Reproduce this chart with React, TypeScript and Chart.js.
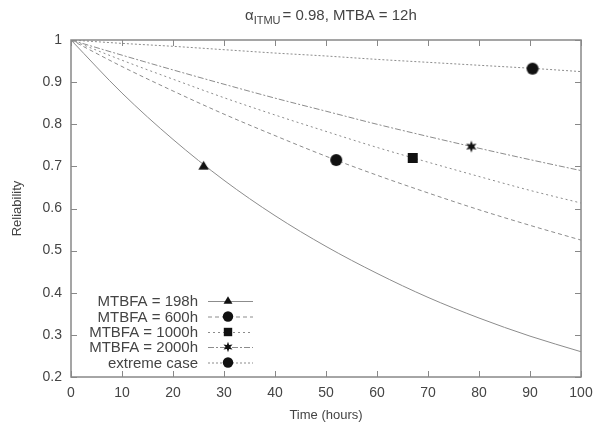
import React, { useEffect, useRef } from "react";
import { Chart, registerables } from "chart.js";

Chart.register(...registerables);

const timeHours = [0, 10, 20, 30, 40, 50, 60, 70, 80, 90, 100];
const rel198 = [1, 0.874, 0.764, 0.667, 0.583, 0.51, 0.446, 0.389, 0.34, 0.297, 0.26];
const rel600 = [1, 0.937, 0.879, 0.824, 0.773, 0.724, 0.679, 0.637, 0.597, 0.56, 0.525];
const rel1000 = [1, 0.952, 0.907, 0.863, 0.822, 0.783, 0.745, 0.71, 0.676, 0.643, 0.613];
const rel2000 = [1, 0.964, 0.929, 0.895, 0.862, 0.831, 0.8, 0.771, 0.743, 0.716, 0.69];
const relExtreme = [1, 0.992, 0.985, 0.977, 0.969, 0.962, 0.954, 0.947, 0.94, 0.933, 0.925];

const markerX = [26, 52, 67, 78.5, 90.5];
const markerY = [0.7, 0.715, 0.72, 0.747, 0.932];

const seriesLabels = ["MTBFA = 198h", "MTBFA = 600h", "MTBFA = 1000h", "MTBFA = 2000h", "extreme case"];
const xTicks = [0, 10, 20, 30, 40, 50, 60, 70, 80, 90, 100];
const yTicks = [0.2, 0.3, 0.4, 0.5, 0.6, 0.7, 0.8, 0.9, 1];

const FONT = "'Liberation Sans', Arial, Helvetica, sans-serif";
const TEXT = "#444";
const LINE = "#8c8c8c";
const dashes: number[][] = [[], [4, 3], [2, 3], [6, 2, 2, 2], [2, 2]];
const pointStyles = ["triangle", "circle", "rect", "star", "circle"];
const pointRadii = [5.5, 6, 5, 6, 6];

function drawMarker(ctx: CanvasRenderingContext2D, style: string, r: number, x: number, y: number) {
  ctx.beginPath();
  if (style === "circle") {
    ctx.arc(x, y, r, 0, Math.PI * 2);
    ctx.fill();
  } else if (style === "rect") {
    const s = r;
    ctx.fillRect(x - s, y - s, 2 * s, 2 * s);
  } else if (style === "triangle") {
    ctx.moveTo(x, y - r);
    ctx.lineTo(x + r * 0.95, y + r * 0.6);
    ctx.lineTo(x - r * 0.95, y + r * 0.6);
    ctx.closePath();
    ctx.fill();
  } else if (style === "star") {
    const ri = r * 0.45;
    for (let k = 0; k < 12; k++) {
      const ang = -Math.PI / 2 + (k * Math.PI) / 6;
      const rr = k % 2 === 0 ? r : ri;
      const px = x + Math.cos(ang) * rr;
      const py = y + Math.sin(ang) * rr;
      if (k === 0) ctx.moveTo(px, py);
      else ctx.lineTo(px, py);
    }
    ctx.closePath();
    ctx.fill();
  }
}

function makeMarkerImage(style: string, r: number): HTMLCanvasElement {
  const size = Math.ceil(r * 2 + 2);
  const c = document.createElement("canvas");
  c.width = size;
  c.height = size;
  const ctx = c.getContext("2d")!;
  ctx.fillStyle = "#111";
  drawMarker(ctx, style, r, size / 2, size / 2);
  return c;
}

export default function App() {
  const ref = useRef<HTMLCanvasElement | null>(null);
  useEffect(() => {
    if (!ref.current) return;
    const allSeries = [rel198, rel600, rel1000, rel2000, relExtreme];
    const lineSets = allSeries.map((s, i) => ({
      label: seriesLabels[i],
      data: timeHours.map((t, j) => ({ x: t, y: s[j] })),
      showLine: true,
      borderColor: LINE,
      borderWidth: 1,
      borderDash: dashes[i],
      pointRadius: 0,
      cubicInterpolationMode: "monotone" as const,
      fill: false,
      order: 2,
    }));
    const markerSets = markerX.map((mx, i) => ({
      label: seriesLabels[i] + " marker",
      data: [{ x: mx, y: markerY[i] }],
      showLine: false,
      pointStyle: makeMarkerImage(pointStyles[i], pointRadii[i]),
      pointRadius: pointRadii[i],
      order: 1,
    }));

    const framePlugin = {
      id: "frame",
      afterDatasetsDraw(chart: any) {
        const { ctx, chartArea: a, scales } = chart;
        ctx.save();
        ctx.strokeStyle = "#888";
        ctx.lineWidth = 1.5;
        ctx.setLineDash([]);
        ctx.strokeRect(a.left, a.top, a.right - a.left, a.bottom - a.top);
        ctx.lineWidth = 1;
        ctx.beginPath();
        const tl = 6;
        xTicks.forEach((v) => {
          const px = Math.round(scales.x.getPixelForValue(v)) + 0.5;
          ctx.moveTo(px, a.bottom);
          ctx.lineTo(px, a.bottom - tl);
          ctx.moveTo(px, a.top);
          ctx.lineTo(px, a.top + tl);
        });
        yTicks.forEach((v) => {
          const py = Math.round(scales.y.getPixelForValue(v)) + 0.5;
          ctx.moveTo(a.left, py);
          ctx.lineTo(a.left + tl, py);
          ctx.moveTo(a.right, py);
          ctx.lineTo(a.right - tl, py);
        });
        ctx.stroke();

        // legend
        const rowY = [301, 316.5, 332, 347, 362.5];
        ctx.font = `15px ${FONT}`;
        ctx.textAlign = "right";
        ctx.textBaseline = "middle";
        seriesLabels.forEach((lab, i) => {
          const y = rowY[i];
          ctx.fillStyle = TEXT;
          ctx.fillText(lab, 198, y + 1);
          ctx.strokeStyle = LINE;
          ctx.lineWidth = 1;
          ctx.setLineDash(dashes[i]);
          ctx.beginPath();
          ctx.moveTo(208, y + 0.5);
          ctx.lineTo(253, y + 0.5);
          ctx.stroke();
        });
        ctx.setLineDash([]);
        rowY.forEach((y, i) => {
          ctx.fillStyle = "#111";
          drawMarker(ctx, pointStyles[i], pointRadii[i] - 0.8, 228, y);
        });
        ctx.restore();

        // title
        ctx.save();
        ctx.fillStyle = TEXT;
        ctx.textAlign = "left";
        ctx.textBaseline = "alphabetic";
        let x = 245;
        const base = 20;
        ctx.font = `15px ${FONT}`;
        ctx.fillText("α", x, base);
        x += ctx.measureText("α").width;
        ctx.font = `11px ${FONT}`;
        ctx.fillText("ITMU", x, base + 4);
        x += ctx.measureText("ITMU").width + 2;
        ctx.font = `15px ${FONT}`;
        ctx.fillText("= 0.98, MTBA = 12h", x, base);
        ctx.restore();
      },
    };

    const chart = new Chart(ref.current, {
      type: "scatter",
      data: { datasets: [...lineSets, ...markerSets] as any },
      plugins: [framePlugin],
      options: {
        animation: false,
        responsive: false,
        maintainAspectRatio: false,
        layout: { padding: { left: 0, right: 20, top: 40, bottom: 0 } },
        plugins: { legend: { display: false }, tooltip: { enabled: false } },
        scales: {
          x: {
            type: "linear",
            min: 0,
            max: 100,
            afterFit: (s: any) => { s.height = 46; },
            afterBuildTicks: (s: any) => { s.ticks = xTicks.map((v) => ({ value: v })); },
            grid: { display: false, drawTicks: false },
            border: { display: false },
            ticks: { color: TEXT, font: { family: FONT, size: 14 }, padding: 8, maxRotation: 0 },
            title: { display: true, text: "Time (hours)", color: TEXT, font: { family: FONT, size: 13 }, padding: { top: 2, bottom: 0 } },
          },
          y: {
            type: "linear",
            min: 0.2,
            max: 1,
            afterFit: (s: any) => { s.width = 71; },
            afterBuildTicks: (s: any) => { s.ticks = yTicks.map((v) => ({ value: v })); },
            grid: { display: false, drawTicks: false },
            border: { display: false },
            ticks: {
              color: TEXT,
              font: { family: FONT, size: 14 },
              padding: 9,
              callback: (v: any) => String(Math.round(Number(v) * 10) / 10),
            },
            title: { display: true, text: "Reliability", color: TEXT, font: { family: FONT, size: 13 }, padding: { top: 10, bottom: 0 } },
          },
        },
      },
    });
    return () => chart.destroy();
  }, []);
  return (
    <div style={{ position: "fixed", left: 0, top: 0, width: 601, height: 423, background: "#fff" }}>
      <canvas ref={ref} width={601} height={423} style={{ width: 601, height: 423 }} />
    </div>
  );
}
